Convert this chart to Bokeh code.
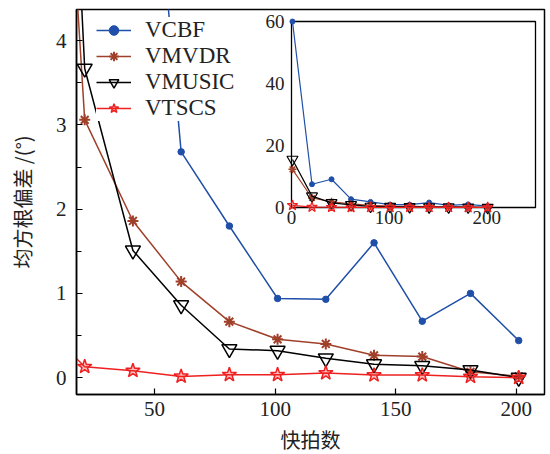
from bokeh.plotting import figure
from bokeh.models import Range1d, FixedTicker, Legend, LegendItem
from bokeh.core.properties import value
from bokeh.embed import file_html
from bokeh.resources import INLINE

# ---- data ----
snapshots = [1, 21, 41, 61, 81, 101, 121, 141, 161, 181, 201]
vcbf = [60.0, 7.5, 9.1, 2.68, 1.80, 0.94, 0.93, 1.60, 0.67, 1.00, 0.44]
vmvdr = [12.3, 3.06, 1.86, 1.14, 0.665, 0.455, 0.40, 0.265, 0.25, 0.07, 0.015]
vmusic = [15.5, 3.67, 1.51, 0.86, 0.34, 0.32, 0.23, 0.16, 0.14, 0.09, 0.0]
vtscs = [0.7, 0.13, 0.083, 0.015, 0.035, 0.035, 0.055, 0.03, 0.03, 0.012, 0.0]
labels = ["VCBF", "VMVDR", "VMUSIC", "VTSCS"]

x_ticks = [50, 100, 150, 200]
y_ticks = [0, 1, 2, 3, 4]
y_minor = [0.5, 1.5, 2.5, 3.5]
inset_xticks = [0, 100, 200]
inset_yticks = [0, 20, 40, 60]
inset_xlim = (0, 250)
inset_ylim = (0, 60)

# ---- layout geometry (pixels) ----
W, H = 550, 454
FL, FR, FT, FB = 76, 544, 9, 394          # main frame edges
IL, IR, IT, IB = 291, 535, 21, 207        # inset box edges

SERIF = value("Liberation Serif")
CJK = "Noto Sans CJK SC"
BLUE, BROWN, BLACK, RED = "#1f4fa8", "#a0402a", "#000000", "#ee2020"

p = figure(frame_width=FR - FL, frame_height=FB - FT, output_backend="svg", toolbar_location=None,
           x_range=Range1d(17.6, 211.7), y_range=Range1d(-0.2, 4.37),
           min_border_left=FL, min_border_right=W - FR,
           min_border_top=FT, min_border_bottom=H - FB)
p.grid.visible = False
p.background_fill_color = "white"
p.outline_line_color = "black"
p.outline_line_width = 1.5
p.outline_line_alpha = 1

# inset ranges mapped so that the inset data fills the inset box
sx = (IR - IL) / (inset_xlim[1] - inset_xlim[0])
sy = (IB - IT) / (inset_ylim[1] - inset_ylim[0])
p.extra_x_ranges = {"ix": Range1d(inset_xlim[0] - (IL - FL) / sx, inset_xlim[1] + (FR - IR) / sx)}
p.extra_y_ranges = {"iy": Range1d(inset_ylim[0] - (FB - IB) / sy, inset_ylim[1] + (IT - FT) / sy)}

# axes
xa = p.xaxis[0]
ya = p.yaxis[0]
xa.ticker = FixedTicker(ticks=x_ticks)
ya.ticker = FixedTicker(ticks=y_ticks, minor_ticks=y_minor)
for ax in (xa, ya):
    ax.axis_line_color = "black"
    ax.axis_line_width = 1.5
    ax.major_tick_in = 6
    ax.major_tick_out = 0
    ax.minor_tick_in = 5
    ax.minor_tick_out = 0
    ax.major_tick_line_width = 1.2
    ax.minor_tick_line_width = 1.2
    ax.major_label_text_font = "Liberation Serif"
    ax.major_label_text_font_size = "21px"
    ax.major_label_text_color = "#222222"
    ax.axis_label_text_font = CJK
    ax.axis_label_text_font_size = "20px"
    ax.axis_label_text_font_style = "normal"
    ax.axis_label_text_color = "#222222"
xa.minor_tick_line_color = None
xa.major_label_standoff = 7
xa.axis_label_standoff = 6
ya.major_label_standoff = 10
ya.axis_label_standoff = 16
xa.axis_label = "快拍数"
ya.axis_label = "均方根偏差 /(°)"

# main series
l1 = p.line(snapshots, vcbf, line_color=BLUE, line_width=1.5)
s1 = p.scatter(snapshots, vcbf, marker="circle", size=6.5, fill_color=BLUE, line_color=BLUE)
l2 = p.line(snapshots, vmvdr, line_color=BROWN, line_width=1.5)
s2 = p.scatter(snapshots, vmvdr, marker="asterisk", size=11, line_color=BROWN, line_width=2)
l3 = p.line(snapshots, vmusic, line_color=BLACK, line_width=1.5)
s3 = p.scatter(snapshots, vmusic, marker="inverted_triangle", size=15, fill_color=None,
               line_color=BLACK, line_width=1.5)
l4 = p.line(snapshots, vtscs, line_color=RED, line_width=1.5)
s4 = p.scatter(snapshots, vtscs, marker="star", size=15, fill_color=RED, fill_alpha=0.3,
               line_color=RED, line_width=1.5)

# inset
ik = dict(x_range_name="ix", y_range_name="iy", level="overlay")
p.quad(left=[inset_xlim[0]], right=[inset_xlim[1]], bottom=[inset_ylim[0]], top=[inset_ylim[1]],
       fill_color="white", line_color="black", line_width=1.3, **ik)
p.line(snapshots, vcbf, line_color=BLUE, line_width=1.2, **ik)
p.scatter(snapshots, vcbf, marker="circle", size=5, fill_color=BLUE, line_color=BLUE, **ik)
p.line(snapshots, vmvdr, line_color=BROWN, line_width=1.2, **ik)
p.scatter(snapshots, vmvdr, marker="asterisk", size=8, line_color=BROWN, line_width=1.5, **ik)
p.line(snapshots, vmusic, line_color=BLACK, line_width=1.2, **ik)
p.scatter(snapshots, vmusic, marker="inverted_triangle", size=11, fill_color=None,
          line_color=BLACK, line_width=1.2, **ik)
p.line(snapshots, vtscs, line_color=RED, line_width=1.2, **ik)
p.scatter(snapshots, vtscs, marker="star", size=11, fill_color=RED, fill_alpha=0.3,
          line_color=RED, line_width=1.2, **ik)
p.text(x=[inset_xlim[0]] * len(inset_yticks), y=inset_yticks, text=[str(t) for t in inset_yticks],
       x_offset=-7, text_align="right", text_baseline="middle", text_font=SERIF,
       text_font_size="19px", text_color="#222222", **ik)
p.text(x=inset_xticks, y=[inset_ylim[0]] * len(inset_xticks), text=[str(t) for t in inset_xticks],
       y_offset=3, text_align="center", text_baseline="top", text_font=SERIF,
       text_font_size="19px", text_color="#222222", **ik)

legend = Legend(items=[LegendItem(label=labels[0], renderers=[l1, s1]),
                       LegendItem(label=labels[1], renderers=[l2, s2]),
                       LegendItem(label=labels[2], renderers=[l3, s3]),
                       LegendItem(label=labels[3], renderers=[l4, s4])],
                location=(20, 273), padding=2, margin=0, spacing=0,
                glyph_width=35, glyph_height=24, label_height=24, label_standoff=14,
                label_text_font="Liberation Serif", label_text_font_size="23px",
                label_text_color="#222222",
                background_fill_color="white", background_fill_alpha=1,
                border_line_color=None)
p.add_layout(legend)

open("out.html", "w").write(file_html(p, INLINE))
